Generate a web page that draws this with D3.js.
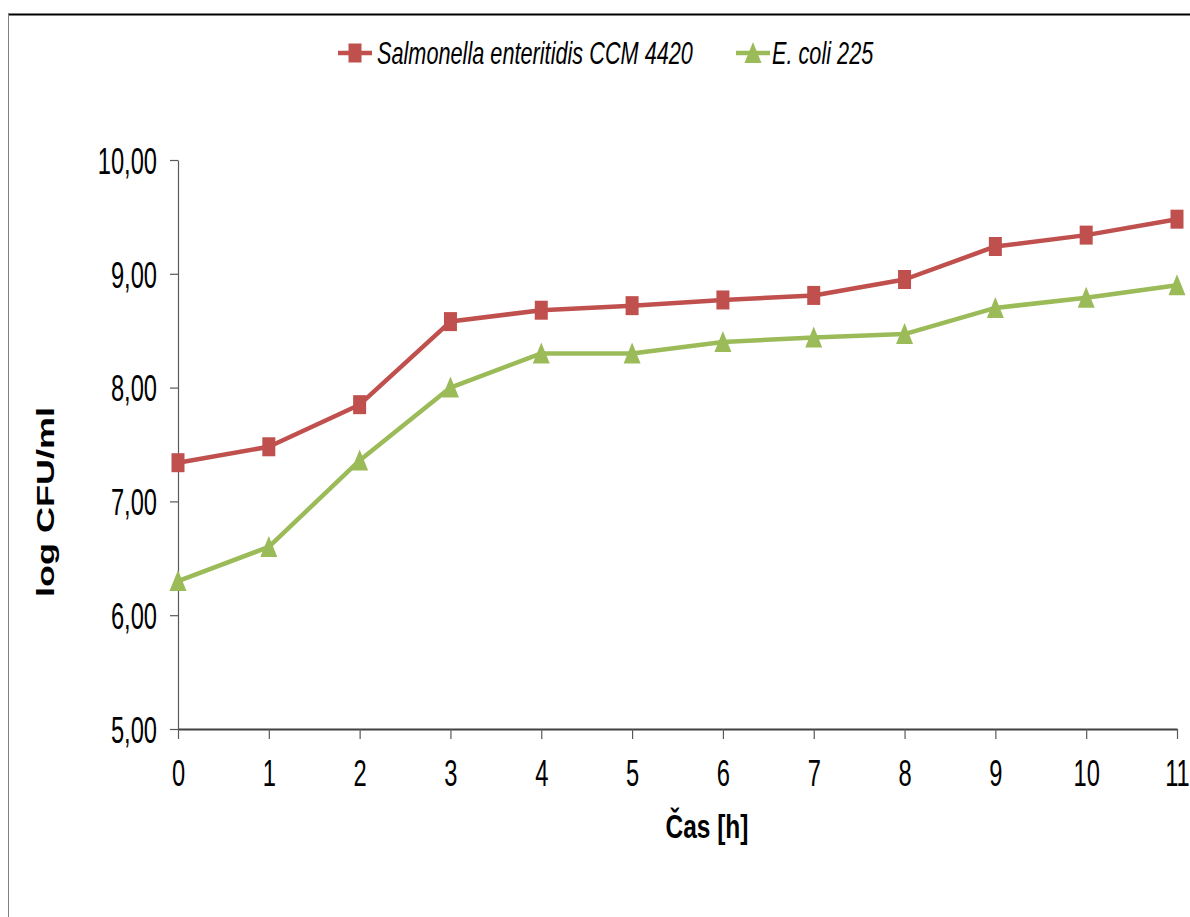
<!DOCTYPE html>
<html>
<head>
<meta charset="utf-8">
<script src="https://cdn.jsdelivr.net/npm/d3@7"></script>
<style>
  html, body { margin: 0; padding: 0; background: #fff; }
  svg { display: block; font-family: "Liberation Sans", Arial, sans-serif; }
</style>
</head>
<body>
<svg id="chart" width="1190" height="917"></svg>
<script>
// Growth over time, log CFU/ml
const hours = [0, 1, 2, 3, 4, 5, 6, 7, 8, 9, 10, 11];
const salmonella = [7.34, 7.48, 7.85, 8.58, 8.68, 8.72, 8.77, 8.81, 8.95, 9.24, 9.34, 9.48];
const ecoli = [6.30, 6.60, 7.36, 8.00, 8.30, 8.30, 8.40, 8.44, 8.47, 8.70, 8.79, 8.90];
const yTicks = [5, 6, 7, 8, 9, 10];
const seriesNames = ["Salmonella enteritidis CCM 4420", "E. coli 225"];
const seriesColors = ["#C0504D", "#9BBB59"];
const xTitle = "Čas [h]";
const yTitle = "log CFU/ml";

const svg = d3.select("#chart");
const W = 1190, H = 917;
const plot = { left: 178, right: 1177, top: 160, bottom: 729 };

// horizontal squeeze applied to text glyphs
const tickSx = 0.64, legendSx = 0.70, titleSx = 0.72, yTitleSx = 0.68;

// outer frame
svg.append("line").attr("x1", 8).attr("x2", W).attr("y1", 14.5).attr("y2", 14.5)
  .attr("stroke", "#000").attr("stroke-width", 2);
svg.append("line").attr("x1", 8.5).attr("x2", 8.5).attr("y1", 14).attr("y2", H)
  .attr("stroke", "#808080").attr("stroke-width", 1);

const x = d3.scaleLinear().domain([0, 11]).range([plot.left, plot.right]);
const y = d3.scaleLinear().domain([5, 10]).range([plot.bottom, plot.top]);
const fmt = v => d3.format(".2f")(v).replace(".", ",");

// y axis
const yAxis = svg.append("g").attr("transform", `translate(${plot.left},0)`)
  .call(d3.axisLeft(y).tickValues(yTicks).tickFormat(fmt).tickSize(8).tickPadding(13).tickSizeOuter(0));
yAxis.select(".domain").attr("stroke", "#595959").attr("stroke-width", 1.2);
yAxis.selectAll(".tick line").attr("stroke", "#595959").attr("stroke-width", 1.2);
yAxis.selectAll(".tick text")
  .attr("font-size", 37).attr("fill", "#000")
  .attr("font-family", "Liberation Sans, Arial, sans-serif")
  .attr("x", -21 / tickSx).attr("dy", "0.36em")
  .attr("transform", `scale(${tickSx},1)`);

// x axis
const xAxis = svg.append("g").attr("transform", `translate(0,${plot.bottom})`)
  .call(d3.axisBottom(x).tickValues(hours).tickFormat(d3.format("d")).tickSize(10).tickPadding(21).tickSizeOuter(0));
xAxis.select(".domain").attr("stroke", "#404040").attr("stroke-width", 2);
xAxis.selectAll(".tick line").attr("stroke", "#595959").attr("stroke-width", 1.2);
xAxis.selectAll(".tick text")
  .attr("font-size", 37).attr("fill", "#000")
  .attr("font-family", "Liberation Sans, Arial, sans-serif")
  .attr("transform", `scale(${tickSx},1)`);

// axis titles
svg.append("g").attr("transform", `translate(707,838) scale(${titleSx},1)`)
  .append("text").attr("text-anchor", "middle").attr("font-size", 34)
  .attr("font-weight", "bold").text(xTitle);
svg.append("g").attr("transform", `translate(54,502) scale(${yTitleSx},1) rotate(-90)`)
  .append("text").attr("text-anchor", "middle").attr("font-size", 36)
  .attr("font-weight", "bold").text(yTitle);

// markers
const squareW = 13, squareH = 19;
const triPath = "M0,-11L8.5,10L-8.5,10Z";
function drawMarker(g, kind, color) {
  if (kind === "square") {
    g.append("rect").attr("x", -squareW / 2).attr("y", -squareH / 2)
      .attr("width", squareW).attr("height", squareH).attr("fill", color);
  } else {
    g.append("path").attr("d", triPath).attr("fill", color);
  }
}

const series = [
  { name: seriesNames[0], values: salmonella, color: seriesColors[0], marker: "square" },
  { name: seriesNames[1], values: ecoli, color: seriesColors[1], marker: "triangle" }
];

const line = d3.line().x((d, i) => x(hours[i])).y(d => y(d));

series.forEach(s => {
  svg.append("path").datum(s.values).attr("d", line)
    .attr("fill", "none").attr("stroke", s.color).attr("stroke-width", 4.5)
    .attr("stroke-linejoin", "round");
  s.values.forEach((v, i) => {
    const g = svg.append("g").attr("transform", `translate(${x(hours[i])},${y(v)})`);
    drawMarker(g, s.marker, s.color);
  });
});

// legend
const legendItems = [
  { s: series[0], x0: 338, textX: 377 },
  { s: series[1], x0: 736, textX: 772 }
];
legendItems.forEach(it => {
  const cy = 53;
  svg.append("line").attr("x1", it.x0).attr("x2", it.x0 + 34).attr("y1", cy).attr("y2", cy)
    .attr("stroke", it.s.color).attr("stroke-width", 4.5);
  const g = svg.append("g").attr("transform", `translate(${it.x0 + 17},${cy})`);
  drawMarker(g, it.s.marker, it.s.color);
  svg.append("g").attr("transform", `translate(${it.textX},64) scale(${legendSx},1)`)
    .append("text").attr("font-size", 31).attr("font-style", "italic")
    .attr("fill", "#000").text(it.s.name);
});
</script>
</body>
</html>
